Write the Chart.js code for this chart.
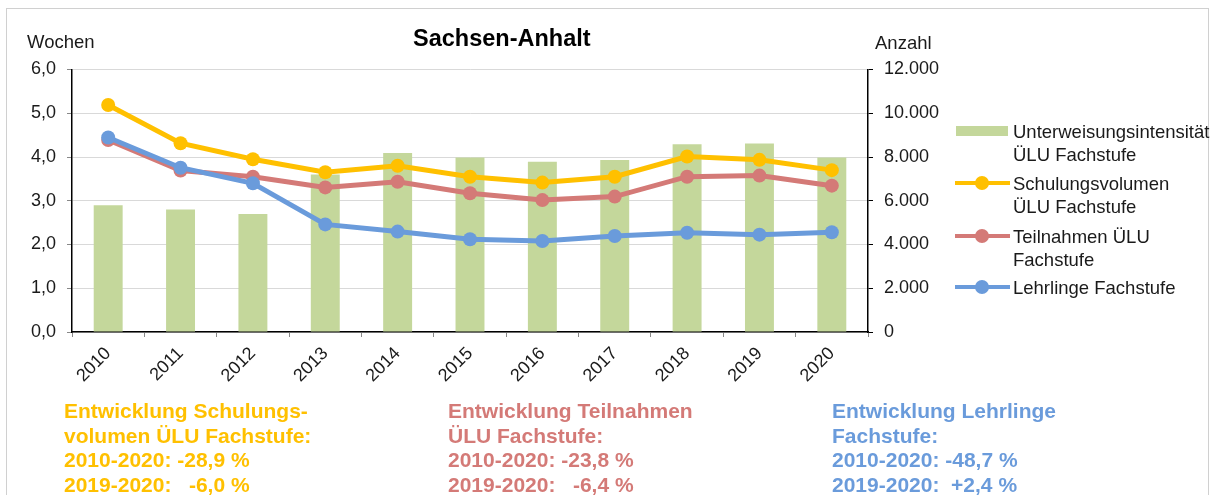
<!DOCTYPE html>
<html>
<head>
<meta charset="utf-8">
<script src="https://cdn.jsdelivr.net/npm/chart.js@4"></script>
<style>
  html, body { margin:0; padding:0; background:#fff; }
  body { width:1220px; height:495px; position:relative; overflow:hidden; font-family:"Liberation Sans", Arial, sans-serif; }
  #frame { position:absolute; left:6px; top:8px; width:1203px; height:520px; border:1px solid #d0d0d0; box-sizing:border-box; }
  #c { position:absolute; left:0; top:0; }
  .t { position:absolute; white-space:nowrap; line-height:1.15; }
  #title { left:413px; top:24.5px; font-size:23.5px; font-weight:bold; color:#000; }
  #wochen { left:27px; top:31px; font-size:18.5px; color:#1a1a1a; }
  #anzahl { left:875px; top:32px; font-size:18.5px; color:#1a1a1a; }
  .lg { position:absolute; font-size:18.5px; line-height:23px; color:#1a1a1a; white-space:nowrap; }
  .note { position:absolute; font-size:21px; font-weight:bold; line-height:24.5px; white-space:pre; }
</style>
</head>
<body>
<div id="frame"></div>
<canvas id="c" width="1220" height="495"></canvas>
<div class="t" id="title">Sachsen-Anhalt</div>
<div class="t" id="wochen">Wochen</div>
<div class="t" id="anzahl">Anzahl</div>
<div id="legend"></div>
<div id="notes"></div>
<script>
// ---- data ----
const years = ['2010','2011','2012','2013','2014','2015','2016','2017','2018','2019','2020'];
const intensitaet = [2.9, 2.8, 2.7, 3.6, 4.09, 3.99, 3.89, 3.93, 4.29, 4.31, 3.99];
const schulungsvolumen = [10380, 8630, 7900, 7300, 7600, 7100, 6830, 7100, 8020, 7870, 7400];
const teilnahmen = [8780, 7380, 7100, 6610, 6870, 6340, 6030, 6190, 7100, 7150, 6690];
const lehrlinge = [8890, 7510, 6800, 4920, 4590, 4240, 4160, 4390, 4540, 4450, 4560];
const leftTicks = [0, 1, 2, 3, 4, 5, 6];
const rightTicks = [0, 2000, 4000, 6000, 8000, 10000, 12000];
const seriesNames = [
  ['Unterweisungsintensität', 'ÜLU Fachstufe'],
  ['Schulungsvolumen', 'ÜLU Fachstufe'],
  ['Teilnahmen ÜLU', 'Fachstufe'],
  ['Lehrlinge Fachstufe']
];
const notes = [
  'Entwicklung Schulungs-\nvolumen ÜLU Fachstufe:\n2010-2020: -28,9 %\n2019-2020:   -6,0 %',
  'Entwicklung Teilnahmen\nÜLU Fachstufe:\n2010-2020: -23,8 %\n2019-2020:   -6,4 %',
  'Entwicklung Lehrlinge\nFachstufe:\n2010-2020: -48,7 %\n2019-2020:  +2,4 %'
];

// ---- styles ----
const colors = ['#c4d79b', '#ffc000', '#d47a77', '#6a9bdb'];
const font = { family: '"Liberation Sans", Arial, sans-serif', size: 18 };

new Chart(document.getElementById('c'), {
  data: {
    labels: years,
    datasets: [
      { type:'bar', label: seriesNames[0].join(' '), data: intensitaet, yAxisID:'yL',
        backgroundColor: colors[0], barPercentage: 0.4, categoryPercentage: 1.0, order: 4 },
      { type:'line', label: seriesNames[1].join(' '), data: schulungsvolumen, yAxisID:'yR',
        borderColor: colors[1], backgroundColor: colors[1], borderWidth: 5, pointRadius: 7, pointHoverRadius: 7,
        pointBorderWidth: 0, tension: 0, order: 3 },
      { type:'line', label: seriesNames[2].join(' '), data: teilnahmen, yAxisID:'yR',
        borderColor: colors[2], backgroundColor: colors[2], borderWidth: 5, pointRadius: 7, pointHoverRadius: 7,
        pointBorderWidth: 0, tension: 0, order: 2 },
      { type:'line', label: seriesNames[3].join(' '), data: lehrlinge, yAxisID:'yR',
        borderColor: colors[3], backgroundColor: colors[3], borderWidth: 5, pointRadius: 7, pointHoverRadius: 7,
        pointBorderWidth: 0, tension: 0, order: 1 }
    ]
  },
  options: {
    responsive: false,
    animation: false,
    layout: { padding: { top: 69.5, left: 0, right: 0, bottom: 0 } },
    plugins: { legend: { display: false }, tooltip: { enabled: false }, title: { display: false } },
    scales: {
      x: {
        offset: true,
        grid: { offset: true, drawOnChartArea: false, drawTicks: true, tickLength: 5, tickColor: '#888', tickWidth: 1 },
        border: { color: '#000', width: 1.5 },
        ticks: { font: font, color: '#1a1a1a', maxRotation: 45, minRotation: 45, padding: 6 },
        afterFit: s => { s.height = 163; }
      },
      yL: {
        position: 'left', min: 0, max: 6,
        afterBuildTicks: s => { s.ticks = leftTicks.map(v => ({ value: v })); },
        grid: { color: '#d9d9d9', lineWidth: 1, drawTicks: true, tickLength: 5, tickColor: '#888' },
        border: { color: '#000', width: 1.5 },
        ticks: { font: font, color: '#1a1a1a', padding: 11, callback: v => v.toFixed(1).replace('.', ',') },
        afterFit: s => { s.width = 72; }
      },
      yR: {
        position: 'right', min: 0, max: 12000,
        afterBuildTicks: s => { s.ticks = rightTicks.map(v => ({ value: v })); },
        grid: { drawOnChartArea: false, drawTicks: true, tickLength: 5, tickColor: '#000' },
        border: { color: '#000', width: 1.5 },
        ticks: { font: font, color: '#1a1a1a', padding: 11, callback: v => v.toLocaleString('de-DE') },
        afterFit: s => { s.width = 352; }
      }
    }
  }
});

// ---- HTML legend ----
const lg = document.getElementById('legend');
const legendCenters = [131, 183, 236, 287];
seriesNames.forEach((lines, i) => {
  const c = legendCenters[i];
  const sym = document.createElement('div');
  sym.style.position = 'absolute';
  if (i === 0) {
    Object.assign(sym.style, { left:'956px', top:(c-5)+'px', width:'52px', height:'10px', background: colors[0] });
  } else {
    Object.assign(sym.style, { left:'955px', top:(c-2)+'px', width:'55px', height:'4px', background: colors[i] });
    const dot = document.createElement('div');
    Object.assign(dot.style, { position:'absolute', left:(982-7)+'px', top:(c-7)+'px', width:'14px', height:'14px', borderRadius:'50%', background: colors[i] });
    lg.appendChild(dot);
  }
  lg.appendChild(sym);
  const tx = document.createElement('div');
  tx.className = 'lg';
  tx.style.left = '1013px';
  tx.style.top = (c - 11.5) + 'px';
  tx.innerHTML = lines.join('<br>');
  lg.appendChild(tx);
});

// ---- notes ----
const nt = document.getElementById('notes');
const noteLeft = [64, 448, 832];
notes.forEach((txt, i) => {
  const d = document.createElement('div');
  d.className = 'note';
  d.style.left = noteLeft[i] + 'px';
  d.style.top = '399px';
  d.style.color = colors[i + 1];
  d.textContent = txt;
  nt.appendChild(d);
});
</script>
</body>
</html>
